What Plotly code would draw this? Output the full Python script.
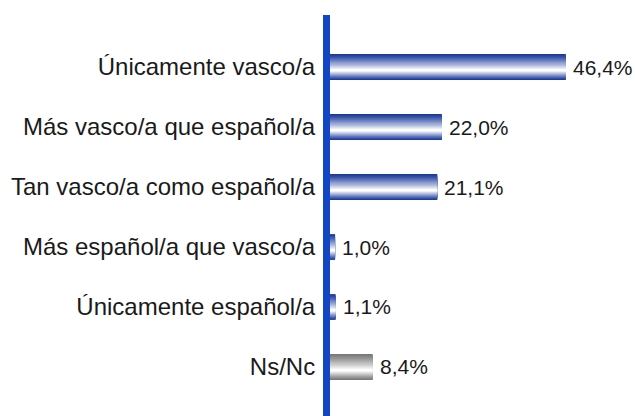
import plotly.graph_objects as go

# Survey data: sense of national identity (%)
categories = [
    "Únicamente vasco/a",
    "Más vasco/a que español/a",
    "Tan vasco/a como español/a",
    "Más español/a que vasco/a",
    "Únicamente español/a",
    "Ns/Nc",
]
values = [46.4, 22.0, 21.1, 1.0, 1.1, 8.4]
labels = [f"{v:.1f}%".replace(".", ",") for v in values]

# Edge colours for the cylinder shading (blue bars, grey for Ns/Nc)
blue_edge = (26, 58, 156)
grey_edge = (120, 120, 120)
edge_colors = [blue_edge] * 5 + [grey_edge]

FONT = "Liberation Sans, Arial, sans-serif"
TEXT = "#1a1a1a"


def mix(c, t):
    r, g, b = (round(ch + (255 - ch) * t) for ch in c)
    return f"rgb({r},{g},{b})"


fig = go.Figure()

bar_h = 0.43          # bar thickness in category units
hl = 0.14 * bar_h     # highlight sits a little below the bar centre
n_layers = 14

for k in range(n_layers):
    t = k / n_layers
    top = -bar_h / 2 + t * (hl + bar_h / 2)
    bottom = bar_h / 2 - t * (bar_h / 2 - hl)
    shade = (k / (n_layers - 1)) ** 1.1
    fig.add_trace(go.Bar(
        orientation="h",
        x=values,
        y=categories,
        offset=top,
        width=bottom - top,
        marker=dict(color=[mix(c, shade) for c in edge_colors], line=dict(width=0)),
        hoverinfo="skip",
        showlegend=False,
    ))

# Value labels just past the end of each bar
for cat, v, lab in zip(categories, values, labels):
    fig.add_annotation(
        x=v, y=cat, text=lab, showarrow=False,
        xanchor="left", yanchor="middle", xshift=5,
        font=dict(family=FONT, size=21, color=TEXT),
    )

fig.update_layout(
    width=635,
    height=416,
    margin=dict(l=330, r=0, t=15, b=0),
    paper_bgcolor="white",
    plot_bgcolor="white",
    barmode="overlay",
    font=dict(family=FONT, color=TEXT),
    xaxis=dict(range=[0, 60], visible=False, fixedrange=True),
    yaxis=dict(
        type="category",
        categoryorder="array",
        categoryarray=categories,
        range=[5.817, -0.867],
        showline=True,
        linecolor="#1346C4",
        linewidth=7,
        showgrid=False,
        zeroline=False,
        ticks="outside",
        ticklen=3,
        tickcolor="rgba(0,0,0,0)",
        tickfont=dict(size=24, color=TEXT),
        fixedrange=True,
    ),
)

fig.write_html("out.html")
